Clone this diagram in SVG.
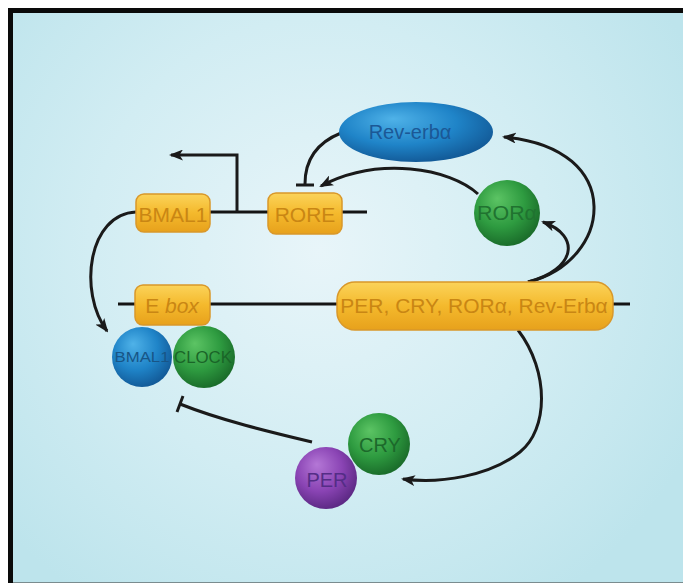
<svg xmlns="http://www.w3.org/2000/svg" width="683" height="583" viewBox="0 0 683 583">
  <defs>
    <radialGradient id="bg" cx="320" cy="250" r="420" gradientUnits="userSpaceOnUse">
      <stop offset="0" stop-color="#e8f5f9"/>
      <stop offset="0.55" stop-color="#d2edf3"/>
      <stop offset="1" stop-color="#bde4ec"/>
    </radialGradient>
    <linearGradient id="gene" x1="0" y1="0" x2="0" y2="1">
      <stop offset="0" stop-color="#fbd35a"/>
      <stop offset="0.5" stop-color="#f4b92c"/>
      <stop offset="1" stop-color="#e7a11c"/>
    </linearGradient>
    <radialGradient id="blue" cx="0.42" cy="0.38" r="0.62" fx="0.35" fy="0.28">
      <stop offset="0" stop-color="#4fb2e8"/>
      <stop offset="0.6" stop-color="#1f84c8"/>
      <stop offset="1" stop-color="#135c9a"/>
    </radialGradient>
    <radialGradient id="green" cx="0.42" cy="0.38" r="0.62" fx="0.35" fy="0.28">
      <stop offset="0" stop-color="#5cc464"/>
      <stop offset="0.6" stop-color="#2e9b40"/>
      <stop offset="1" stop-color="#1b6e2b"/>
    </radialGradient>
    <radialGradient id="purple" cx="0.42" cy="0.38" r="0.62" fx="0.35" fy="0.28">
      <stop offset="0" stop-color="#b477d6"/>
      <stop offset="0.6" stop-color="#8a44b4"/>
      <stop offset="1" stop-color="#5e2a86"/>
    </radialGradient>
    <marker id="arrow" viewBox="0 0 14 11" refX="12" refY="5.5" markerWidth="14" markerHeight="11" markerUnits="userSpaceOnUse" orient="auto">
      <path d="M0,0 L14,5.5 L0,11 L3.5,5.5 z" fill="#1a1a1a"/>
    </marker>
    <style>
      .gene { fill: url(#gene); stroke: #d9982a; stroke-width: 1.5; }
      .gtxt { font-family: "Liberation Sans", Arial, sans-serif; fill: #c98614; text-anchor: middle; }
      .ptxt { font-family: "Liberation Sans", Arial, sans-serif; text-anchor: middle; }
      .dna { stroke: #141414; stroke-width: 3.2; fill: none; }
      .link { stroke: #1a1a1a; stroke-width: 3; fill: none; }
      .act { marker-end: url(#arrow); }
    </style>
  </defs>

  <!-- page and frame -->
  <rect x="0" y="0" width="683" height="583" fill="#ffffff"/>
  <rect x="8" y="8" width="675" height="575" fill="#0a0a0a"/>
  <rect x="13" y="13" width="670" height="569" fill="url(#bg)"/>
  <rect x="13" y="582" width="670" height="1" fill="#7a8c8f"/>

  <!-- DNA strands -->
  <g id="dna">
    <line class="dna" x1="208" y1="212" x2="367" y2="212"/>
    <line class="dna" x1="118" y1="304" x2="630" y2="304"/>
  </g>

  <!-- connectors -->
  <g id="connectors">
    <!-- transcription start of BMAL1 -->
    <path class="link act" d="M237 212 L237 155 L171 155"/>
    <!-- BMAL1 gene to BMAL1 protein -->
    <path class="link act" d="M136 212 C 88 214 78 292 107 331"/>
    <!-- Rev-erb alpha represses RORE -->
    <path class="link" d="M341 133 C 316 143 305 160 305 184"/>
    <line class="link" x1="296" y1="185" x2="314" y2="185"/>
    <!-- ROR alpha activates RORE -->
    <path class="link act" d="M478 194 C 450 168 378 156 321 186"/>
    <!-- target genes to ROR alpha -->
    <path class="link act" d="M528 282 C 575 270 582 236 543 222"/>
    <!-- target genes to Rev-erb alpha -->
    <path class="link act" d="M528 282 C 612 262 628 148 504 137"/>
    <!-- target genes to PER / CRY -->
    <path class="link act" d="M518 330 C 550 372 548 430 520 452 C 490 476 440 484 403 479"/>
    <!-- PER / CRY repress CLOCK-BMAL1 -->
    <path class="link" d="M312 442 C 270 432 220 420 180 404"/>
    <line class="link" x1="183" y1="396" x2="177" y2="412"/>
  </g>

  <g id="gene-bmal1">
    <rect class="gene" x="136" y="194" width="74" height="38" rx="8"/>
    <text class="gtxt" x="173" y="222" font-size="21">BMAL1</text>
  </g>
  <g id="gene-rore">
    <rect class="gene" x="268" y="193" width="74" height="41" rx="8"/>
    <text class="gtxt" x="305" y="222" font-size="21">RORE</text>
  </g>
  <g id="gene-ebox">
    <rect class="gene" x="135" y="285" width="75" height="40" rx="8"/>
    <text class="gtxt" x="172" y="313" font-size="21">E <tspan font-style="italic">box</tspan></text>
  </g>
  <g id="gene-targets">
    <rect class="gene" x="337" y="282" width="276" height="48" rx="18"/>
    <text class="gtxt" x="474" y="313" font-size="21">PER, CRY, RORα, Rev-Erbα</text>
  </g>

  <g id="rev-erb">
    <ellipse cx="416" cy="132" rx="77" ry="30" fill="url(#blue)"/>
    <text class="ptxt" x="410" y="139" font-size="20" fill="#1b5896">Rev-erbα</text>
  </g>
  <g id="ror">
    <circle cx="507" cy="213" r="33" fill="url(#green)"/>
    <text class="ptxt" x="507" y="220" font-size="20" fill="#207330" textLength="60" lengthAdjust="spacingAndGlyphs">RORα</text>
  </g>
  <g id="bmal1">
    <circle cx="142" cy="357" r="30" fill="url(#blue)"/>
    <text class="ptxt" x="142" y="362" font-size="15" fill="#185586" textLength="55" lengthAdjust="spacingAndGlyphs">BMAL1</text>
  </g>
  <g id="clock">
    <circle cx="204" cy="357" r="31" fill="url(#green)"/>
    <text class="ptxt" x="203" y="363" font-size="16" fill="#1a6528" textLength="58" lengthAdjust="spacingAndGlyphs">CLOCK</text>
  </g>
  <g id="per">
    <ellipse cx="326" cy="478" rx="31" ry="31" fill="url(#purple)"/>
    <text class="ptxt" x="327" y="487" font-size="20" fill="#542d86">PER</text>
  </g>
  <g id="cry">
    <circle cx="379" cy="444" r="31" fill="url(#green)"/>
    <text class="ptxt" x="380" y="452" font-size="20" fill="#1c692b">CRY</text>
  </g>
</svg>
